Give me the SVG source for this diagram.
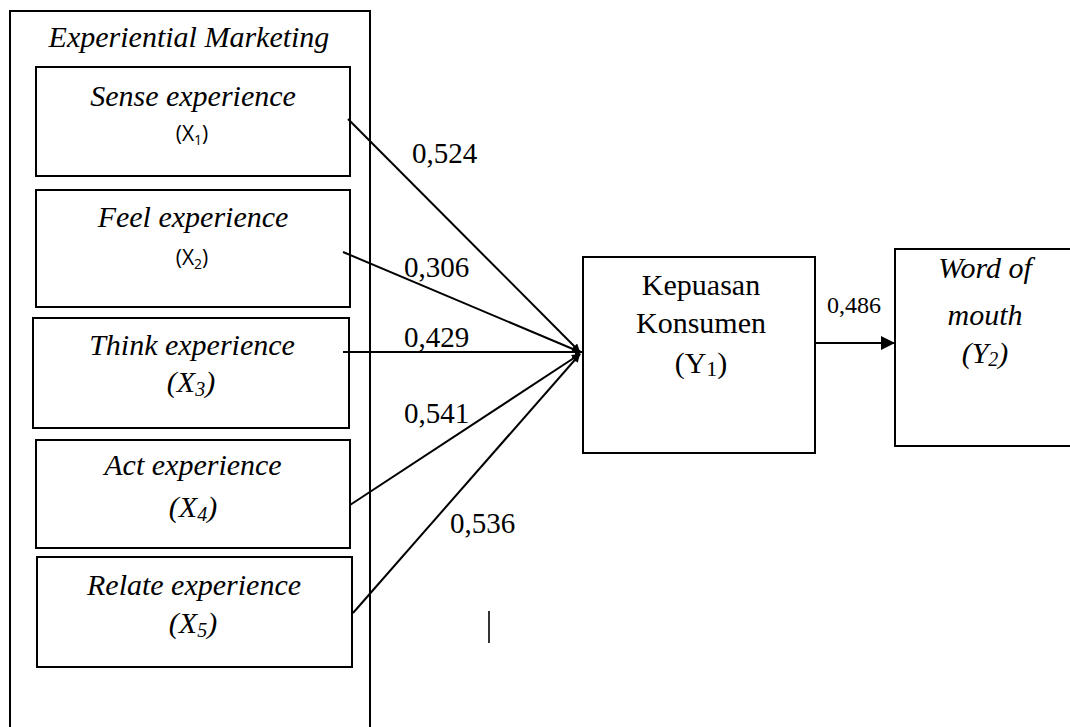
<svg xmlns="http://www.w3.org/2000/svg" width="1070" height="727" viewBox="0 0 1070 727">
<style>
.box{fill:none;stroke:#000;stroke-width:2}
.ser{font-family:"Liberation Serif","Times New Roman",serif;fill:#000}
.it{font-style:italic}
.t{font-size:30px}
.sans{font-family:"Open Sans","Noto Sans","Liberation Sans",sans-serif;fill:#000;font-size:21px}
.lbl{font-family:"Liberation Serif","Times New Roman",serif;font-size:29px;fill:#000}
.con{stroke:#000;stroke-width:2;fill:none}
</style>
<defs>
<marker id="ah" viewBox="0 0 10 10" refX="10" refY="5" markerWidth="9" markerHeight="8" orient="auto" markerUnits="userSpaceOnUse">
<path d="M0,0 L10,5 L0,10 z" fill="#000"/>
</marker>
<marker id="ah2" viewBox="0 0 10 10" refX="10" refY="5" markerWidth="16" markerHeight="14" orient="auto" markerUnits="userSpaceOnUse">
<path d="M0,0 L10,5 L0,10 z" fill="#000"/>
</marker>
</defs>
<g id="experiential-marketing">
<rect class="box" x="10" y="11" width="360" height="740"/>
<text class="ser it t" x="189" y="47" text-anchor="middle">Experiential Marketing</text>
</g>
<g id="x1">
<rect class="box" x="36" y="67" width="314" height="109"/>
<text class="ser it t" x="193" y="106" text-anchor="middle">Sense experience</text>
<text class="sans" x="192" y="141" text-anchor="middle">(X<tspan font-size="14" dy="4">1</tspan><tspan dy="-4">)</tspan></text>
</g>
<g id="x2">
<rect class="box" x="36" y="190" width="314" height="117"/>
<text class="ser it t" x="193" y="227" text-anchor="middle">Feel experience</text>
<text class="sans" x="192" y="265" text-anchor="middle">(X<tspan font-size="14" dy="4">2</tspan><tspan dy="-4">)</tspan></text>
</g>
<g id="x3">
<rect class="box" x="33" y="318" width="316" height="110"/>
<text class="ser it t" x="192" y="355" text-anchor="middle">Think experience</text>
<text class="ser it t" x="191" y="392" text-anchor="middle">(X<tspan font-size="20" dy="4">3</tspan><tspan dy="-4">)</tspan></text>
</g>
<g id="x4">
<rect class="box" x="36" y="440" width="314" height="108"/>
<text class="ser it t" x="193" y="475" text-anchor="middle">Act experience</text>
<text class="ser it t" x="193" y="517" text-anchor="middle">(X<tspan font-size="20" dy="4">4</tspan><tspan dy="-4">)</tspan></text>
</g>
<g id="x5">
<rect class="box" x="37" y="557" width="315" height="110"/>
<text class="ser it t" x="194" y="595" text-anchor="middle">Relate experience</text>
<text class="ser it t" x="193" y="633" text-anchor="middle">(X<tspan font-size="20" dy="4">5</tspan><tspan dy="-4">)</tspan></text>
</g>
<g id="y1">
<rect class="box" x="583" y="257" width="232" height="196"/>
<text class="ser t" x="701" y="295" text-anchor="middle">Kepuasan</text>
<text class="ser t" x="701" y="333" text-anchor="middle">Konsumen</text>
<text class="ser t" x="701" y="373" text-anchor="middle">(Y<tspan font-size="22" dy="3">1</tspan><tspan dy="-3">)</tspan></text>
</g>
<g id="y2">
<rect class="box" x="895" y="249" width="190" height="197"/>
<text class="ser it t" x="985" y="278" text-anchor="middle">Word of</text>
<text class="ser it t" x="985" y="325" text-anchor="middle">mouth</text>
<text class="ser it t" x="985" y="363" text-anchor="middle">(Y<tspan font-size="20" dy="3">2</tspan><tspan dy="-3">)</tspan></text>
</g>
<g id="connectors">
<line class="con" x1="348" y1="119" x2="580" y2="352" marker-end="url(#ah)"/>
<line class="con" x1="343" y1="252" x2="580" y2="352" marker-end="url(#ah)"/>
<line class="con" x1="343" y1="352" x2="583" y2="352" marker-end="url(#ah)"/>
<line class="con" x1="350" y1="505" x2="580" y2="354" marker-end="url(#ah)"/>
<line class="con" x1="353" y1="613" x2="580" y2="354" marker-end="url(#ah)"/>
<line class="con" x1="815" y1="343" x2="895" y2="343" marker-end="url(#ah2)"/>
<line x1="489" y1="611" x2="489" y2="643" stroke="#333" stroke-width="2"/>
<text class="lbl" x="412" y="163">0,524</text>
<text class="lbl" x="404" y="277">0,306</text>
<text class="lbl" x="404" y="347">0,429</text>
<text class="lbl" x="404" y="423">0,541</text>
<text class="lbl" x="450" y="533">0,536</text>
<text class="ser" x="827" y="313" font-size="24">0,486</text>
</g>
</svg>
